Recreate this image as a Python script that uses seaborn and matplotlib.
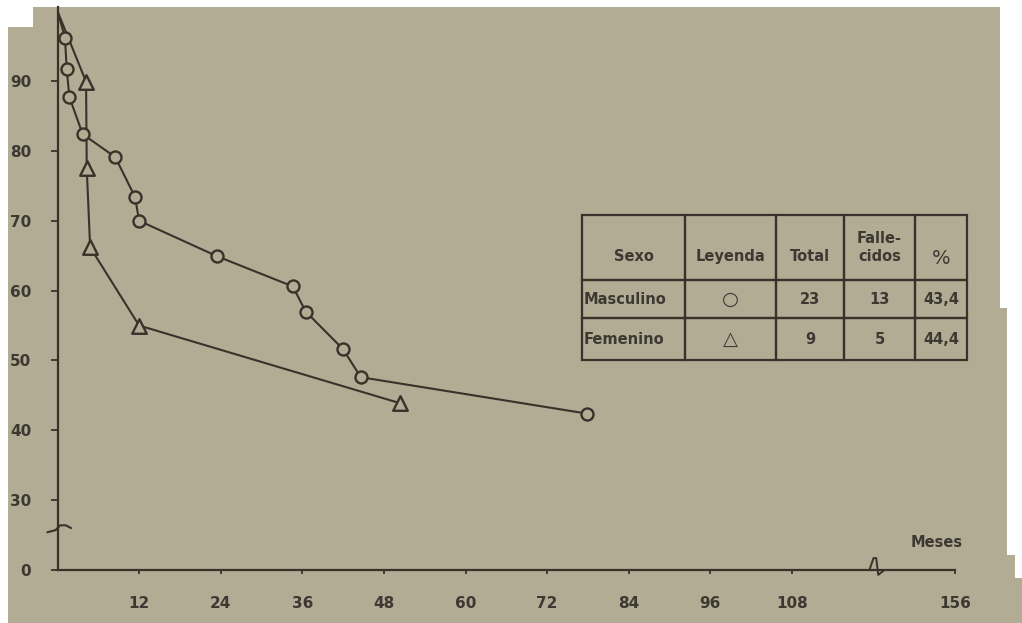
# -*- coding: utf-8 -*-

import matplotlib.pyplot as plt
import seaborn as sns
from matplotlib.patches import Polygon

sns.set_theme(style='ticks')
plt.rcParams['font.family'] = ['DejaVu Sans']

# Supervivencia (%) por meses
meses_masc = [0, 1.1, 1.35, 1.75, 3.7, 8.5, 11.4, 12.0, 23.5, 34.6, 36.5, 42.0, 44.6, 77.8]
superv_masc = [100, 96.2, 91.7, 87.7, 82.4, 79.1, 73.4, 70.0, 64.9, 60.6, 57.0, 51.6, 47.6, 42.4]
meses_fem = [0, 4.2, 4.3, 4.8, 12.0, 50.3]
superv_fem = [100, 89.9, 77.5, 66.2, 55.0, 43.9]

x_ticks = [12, 24, 36, 48, 60, 72, 84, 96, 108, 156]
y_ticks = [0, 30, 40, 50, 60, 70, 80, 90]

tabla_cols = ['\nSexo', '\nLeyenda', '\nTotal', 'Falle-\ncidos', '\n%']
tabla_filas = [['Masculino', '○', '23', '13', '43,4'],
               ['Femenino', '△', '9', '5', '44,4']]

PAPEL = '#b2ac95'
TINTA = '#38332a'
LETRA = '#3d3932'


# ejes cortados: 120-144 meses fuera del eje x, 0-30 comprimido en el eje y
def eje_x(m):
    return m if m <= 120 else m - 24


def eje_y(v):
    return v if v >= 30 else 20 + v / 3


fig = plt.figure(figsize=(10.22, 6.23), dpi=100)
fig.patch.set_facecolor('white')

# la hoja escaneada (bordes blancos del escaneo)
borde = [(8, 27), (33, 27), (33, 7), (1000, 7), (1000, 308), (1007, 308), (1007, 555),
         (1015, 555), (1015, 578), (1022, 578), (1022, 623), (8, 623)]
fig.patches.append(Polygon([(x / 1022, 1 - y / 623) for x, y in borde], closed=True,
                           transform=fig.transFigure, facecolor=PAPEL, edgecolor='none', zorder=-5))

ax = fig.add_axes([57.5 / 1022, 53 / 623, 897.6 / 1022, 570 / 623])
ax.set_facecolor('none')

sns.lineplot(x=[eje_x(m) for m in meses_masc], y=[eje_y(v) for v in superv_masc], sort=False,
             estimator=None, color=TINTA, linewidth=1.5, ax=ax)
sns.lineplot(x=[eje_x(m) for m in meses_fem], y=[eje_y(v) for v in superv_fem], sort=False,
             estimator=None, color=TINTA, linewidth=1.5, ax=ax)
sns.scatterplot(x=meses_masc[1:], y=superv_masc[1:], marker='o', s=75, facecolor=PAPEL,
                edgecolor=TINTA, linewidth=1.7, ax=ax, zorder=3)
sns.scatterplot(x=meses_fem[1:], y=superv_fem[1:], marker='^', s=110, facecolor=PAPEL,
                edgecolor=TINTA, linewidth=1.7, ax=ax, zorder=3)

ax.set_xlim(0, 132)
ax.set_ylim(20, 101.6)
ax.set_xticks([eje_x(m) for m in x_ticks])
ax.set_xticklabels([str(m) for m in x_ticks])
ax.set_yticks([eje_y(v) for v in y_ticks])
ax.set_yticklabels([str(v) for v in y_ticks])
ax.tick_params(axis='y', direction='out', length=5, width=1.3, color=TINTA, pad=14,
               labelsize=11, labelcolor=LETRA)
ax.tick_params(axis='x', direction='out', length=3, width=1.3, color=TINTA, pad=16,
               labelsize=11, labelcolor=LETRA)
for lab in ax.get_xticklabels() + ax.get_yticklabels():
    lab.set_fontweight('bold')
sns.despine(ax=ax)
for lado in ['left', 'bottom']:
    ax.spines[lado].set_color(TINTA)
    ax.spines[lado].set_linewidth(1.6)
ax.spines['left'].set_bounds(20, 100.6)

# marcas de corte de los ejes
ax.plot([-1.5, -0.3, 0.4, 1.2, 2.0], [25.4, 25.7, 26.4, 26.4, 26.0], color=TINTA, lw=1.5, clip_on=False)
ax.plot([119.4, 120.0, 120.4, 120.7, 121.6], [20, 21.7, 21.7, 19.3, 20], color=TINTA, lw=1.4,
        clip_on=False)

ax.text(129.3, 23.9, 'Meses', ha='center', va='center', fontsize=10.5, fontweight='bold',
        color=LETRA)

# tabla de leyenda
anchos = [103, 91, 68, 71, 52]
tabla = ax.table(cellText=tabla_filas, colLabels=tabla_cols,
                 colWidths=[a / sum(anchos) for a in anchos], cellLoc='center',
                 bbox=[0.5843, 0.3684, 0.429, 0.2544])
tabla.auto_set_font_size(False)
altos = [65, 38, 42]
for (f, c), celda in tabla.get_celld().items():
    celda.set_height(altos[f])
    celda.set_facecolor('none')
    celda.set_edgecolor(TINTA)
    celda.set_linewidth(1.6)
    texto = celda.get_text()
    texto.set_color(LETRA)
    texto.set_fontsize(10.5)
    texto.set_fontweight('bold')
    if f > 0 and c == 0:
        texto.set_horizontalalignment('left')
        celda.PAD = 0.02
    if c == 1 and f > 0:
        texto.set_fontsize(14)
        texto.set_fontweight('normal')
    if f == 0 and c == 4:
        texto.set_fontsize(14)
        texto.set_fontweight('normal')

plt.savefig('out.png', dpi=100, facecolor=fig.get_facecolor())
